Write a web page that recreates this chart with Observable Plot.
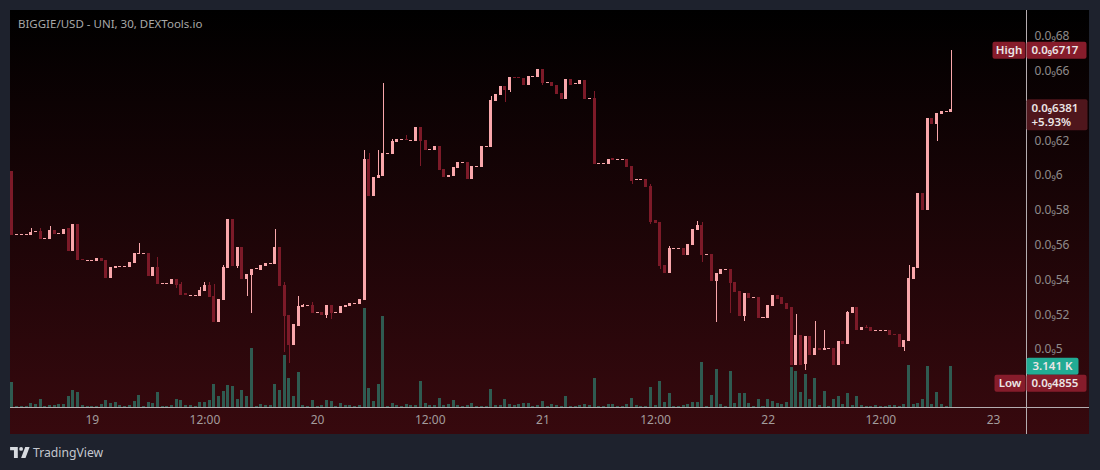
<!DOCTYPE html>
<html><head><meta charset="utf-8">
<script src="https://cdn.jsdelivr.net/npm/d3@7"></script>
<script src="https://cdn.jsdelivr.net/npm/@observablehq/plot@0.6"></script>
<style>
html,body{margin:0;padding:0;background:#1e222d;width:1100px;height:470px;overflow:hidden;font-family:"Noto Sans",sans-serif}
#panel{position:absolute;left:10px;top:10px;width:1079px;height:424px}
#panel svg{display:block}
#title{position:absolute;left:18px;top:16px;font-size:11.5px;color:#a8a8a8;line-height:16px;white-space:nowrap}
#brand{position:absolute;left:10px;top:444px;height:16px;display:flex;align-items:center;gap:3px;color:#c4c8cf;font-size:12.2px}
</style></head><body>
<div id="panel"></div>
<div id="title">BIGGIE/USD - UNI, 30, DEXTools.io</div>
<div id="brand"><svg width="20" height="11" viewBox="0 0 36 20"><path fill="#d8dbe0" d="M14 0H0v6h7v14h7V0Z M28 20h-8L27.5 0h8L28 20Z"/><circle fill="#d8dbe0" cx="20" cy="3.5" r="3.5"/></svg><span>TradingView</span></div>
<script>
// prices are the mantissa shown on the price axis (0.0₉6381 → 0.6381)
const opens = [
.6023,.5656,.5656,.5656,.5655,.5673,.5680,.5633,.5632,.5684,
.5662,.5661,.5693,.5563,.5720,.5518,.5507,.5507,.5506,.5523,
.5511,.5408,.5466,.5472,.5472,.5471,.5494,.5547,.5547,.5552,
.5420,.5471,.5374,.5374,.5374,.5402,.5374,.5319,.5307,.5307,
.5305,.5333,.5368,.5305,.5155,.5282,.5466,.5747,.5477,.5586,
.5402,.5425,.5457,.5454,.5477,.5489,.5489,.5586,.5368,.5195,
.5023,.5132,.5241,.5248,.5253,.5208,.5213,.5195,.5253,.5208,
.5207,.5241,.5247,.5261,.5259,.5282,.6092,.5879,.5983,.5994,
.6122,.6121,.6190,.6200,.6208,.6196,.6195,.6276,.6201,.6143,
.6144,.6167,.6034,.5989,.5994,.6040,.6070,.6075,.5977,.6045,
.6046,.6162,.6161,.6425,.6460,.6512,.6488,.6564,.6564,.6557,
.6517,.6564,.6563,.6609,.6528,.6534,.6517,.6471,.6437,.6552,
.6524,.6523,.6546,.6438,.6443,.6064,.6064,.6063,.6095,.6087,
.6087,.6092,.6052,.5972,.5972,.5977,.5937,.5741,.5730,.5483,
.5437,.5576,.5576,.5580,.5540,.5598,.5684,.5713,.5541,.5546,
.5391,.5431,.5455,.5460,.5385,.5333,.5190,.5322,.5294,.5299,
.5179,.5178,.5247,.5310,.5299,.5264,.5241,.4908,.5080,.4914,
.5075,.4966,.5003,.4994,.5001,.5006,.4908,.5046,.5029,.5207,
.5241,.5109,.5128,.5126,.5104,.5104,.5104,.5109,.5087,.5086,
.5011,.5046,.5402,.5466,.5897,.5799,.6328,.6293,.6351,.6363,.6362];
const closes = [
.5655,.5662,.5662,.5662,.5672,.5679,.5632,.5639,.5684,.5661,
.5668,.5690,.5563,.5720,.5511,.5512,.5513,.5513,.5523,.5506,
.5408,.5471,.5477,.5478,.5478,.5500,.5552,.5553,.5553,.5420,
.5471,.5374,.5380,.5380,.5402,.5368,.5310,.5313,.5313,.5313,
.5339,.5368,.5299,.5155,.5287,.5471,.5747,.5477,.5586,.5402,
.5431,.5460,.5463,.5483,.5494,.5495,.5586,.5362,.5190,.5023,
.5144,.5247,.5253,.5254,.5207,.5214,.5195,.5253,.5207,.5214,
.5247,.5253,.5264,.5267,.5287,.6092,.5879,.5989,.6000,.6126,
.6128,.6195,.6207,.6206,.6202,.6202,.6276,.6195,.6144,.6149,
.6167,.6029,.5989,.6000,.6046,.6075,.6076,.5977,.6052,.6051,
.6167,.6168,.6431,.6466,.6512,.6488,.6563,.6558,.6558,.6517,
.6569,.6570,.6609,.6529,.6534,.6512,.6466,.6437,.6552,.6517,
.6530,.6546,.6437,.6444,.6063,.6070,.6070,.6092,.6089,.6093,
.6093,.6046,.5966,.5978,.5978,.5931,.5730,.5724,.5477,.5437,
.5580,.5582,.5582,.5540,.5603,.5690,.5713,.5540,.5547,.5391,
.5437,.5460,.5461,.5379,.5328,.5190,.5322,.5293,.5300,.5178,
.5185,.5253,.5310,.5287,.5259,.5230,.4908,.5080,.4908,.5075,
.4966,.5006,.4997,.5006,.5007,.4908,.5046,.5029,.5213,.5241,
.5109,.5126,.5122,.5103,.5110,.5110,.5110,.5080,.5081,.5011,
.5052,.5408,.5471,.5897,.5799,.6328,.6293,.6356,.6368,.6369,.6381];
// highs and lows that stick out of the candle body, by candle number
const wickHighs = {4:.5693,6:.5693,8:.5707,27:.5609,31:.5529,36:.5385,40:.5356,41:.5385,42:.5385,43:.5374,45:.5483,56:.5690,58:.5385,61:.5305,62:.5259,64:.5270,75:.6144,76:.6126,78:.6144,79:.6529,81:.6207,84:.6230,102:.6454,124:.6483,136:.5948,140:.5592,146:.5736,147:.5730,167:.5201,171:.5161,173:.5109,178:.5218,182:.5138,191:.5483,200:.6717};
const wickLows = {35:.5351,48:.5466,50:.5305,51:.5207,58:.4983,59:.4920,67:.5178,68:.5172,87:.6052,105:.6421,106:.6477,113:.6517,132:.5948,136:.5718,138:.5460,147:.5500,150:.5155,153:.5207,156:.5161,169:.4879,190:.4989,197:.6195};
// volume in thousands
const volumes = [
1.87,.08,.08,.08,.30,.25,.61,.10,.18,.18,
.25,.25,.86,1.32,1.16,.15,.10,.08,.10,.25,
.53,.33,.40,.13,.10,.18,.48,.94,.10,.40,
.33,1.16,.10,.10,.18,.61,.56,.18,.13,.10,
.40,.40,.56,1.77,.86,1.24,1.70,1.62,.63,1.32,
.86,4.50,.08,.25,.18,.13,1.77,1.32,3.97,2.23,
.86,2.68,.18,.10,.56,.10,.18,.56,.48,.10,
.33,.18,.18,.10,.18,7.54,1.47,.48,1.77,6.93,
.10,.33,.15,.10,.25,.13,.18,2.00,.33,.18,
.18,.71,.18,.25,.56,.18,.10,.18,.33,.10,
.08,.08,1.39,.18,.18,.63,.25,.18,.25,.33,
.33,.10,.18,.48,.10,.25,.18,.10,.86,.10,
.10,.18,.25,.15,2.23,.10,.10,.25,.25,.10,
.10,.25,.71,.18,.10,.10,1.54,.18,2.00,.40,
1.09,.10,.10,.15,.25,.40,.40,3.44,.08,.94,
2.91,.25,.10,2.76,.33,1.09,1.09,.33,.10,.63,
.10,.63,.48,.33,.25,.40,3.06,2.76,1.16,2.53,
.63,2.23,.18,1.24,.10,.63,.86,.25,1.09,.18,
.86,.18,.10,.10,.18,.10,.10,.18,.18,.10,
.25,3.21,.25,.33,.63,3.14,.25,1.16,.25,.10,3.141];
const priceTicks = [.5,.52,.54,.56,.58,.6,.62,.66,.68];
const timeTicks = [17,41,65,89,113,137,161,185,209];
const timeLabels = ["19","12:00","20","12:00","21","12:00","22","12:00","23"];
const highValue = .6717, lowValue = .4855, lastValue = .6381, lastChange = "+5.93%", lastVolume = "3.141 K";

const PINK="#f9a7ab", DARK="#7c1a28", GREEN="#2f5b51", HALF=0.32;
const priceBase=.46667, priceTop=.69483, volToPrice=.00754, timeStart=-.42, timeEnd=216.03;
const fmt=v=>"0.0₉"+String(v).replace(/^0\./,"");

const candles=opens.map((o,i)=>({i,o,c:closes[i],
  h:wickHighs[i]??Math.max(o,closes[i]),l:wickLows[i]??Math.min(o,closes[i]),v:volumes[i],up:closes[i]>=o}));

function tags(index,scales,values,dim){
  const g=d3.create("svg:g").attr("font-size",11.5).attr("font-weight",600);
  const right=dim.width-dim.marginRight+0.5;
  const box=(x,w,cy,h,fill,lines,anchor)=>{
    g.append("rect").attr("x",x).attr("y",cy-h/2).attr("width",w).attr("height",h).attr("rx",2).attr("fill",fill);
    lines.forEach((t,k)=>g.append("text").attr("x",anchor=="middle"?x+w/2:x+5)
      .attr("y",cy+(k-(lines.length-1)/2)*14).attr("dy","0.36em").attr("text-anchor",anchor||"start")
      .attr("fill","#ece6e6").text(t));
  };
  const hy=scales.y(highValue), ly=scales.y(lowValue)+9, py=scales.y(lastValue), vy=ly-17;
  box(right-34,33,hy,17,"#861c2b",["High"],"middle");
  box(right,60,hy,17,"#861c2b",[fmt(highValue)]);
  box(right,61,py+6,31,"#4f161c",[fmt(lastValue),lastChange]);
  box(right,52,vy,17,"#22ab94",[lastVolume],"middle");
  box(right-32,31,ly,17,"#861c2b",["Low"],"middle");
  box(right,60,ly,17,"#861c2b",[fmt(lowValue)]);
  return g.node();
}

const chart=Plot.plot({
  width:1079,height:424,marginLeft:0,marginRight:63,marginTop:0,marginBottom:27,
  style:{background:"linear-gradient(to bottom,#000000 0%,#37090e 100%)",fontFamily:"'Noto Sans',sans-serif",fontSize:"12px",overflow:"visible"},
  x:{domain:[timeStart,timeEnd],range:[0,1016],axis:null},
  y:{domain:[priceBase,priceTop],range:[397,0],axis:null},
  marks:[
    Plot.rectY(candles,{x1:d=>d.i-HALF,x2:d=>d.i+HALF,y1:priceBase,y2:d=>priceBase+d.v*volToPrice,fill:GREEN,shapeRendering:"crispEdges"}),
    Plot.ruleX(candles,{x:"i",y1:"l",y2:"h",stroke:d=>d.up?PINK:DARK,strokeWidth:1,shapeRendering:"crispEdges"}),
    Plot.rectY(candles,{x1:d=>d.i-HALF,x2:d=>d.i+HALF,y1:"o",y2:"c",fill:d=>d.up?PINK:DARK,shapeRendering:"crispEdges"}),
    Plot.ruleY([priceBase],{stroke:"#b5adb0",strokeWidth:1,insetRight:-63}),
    Plot.ruleX([timeEnd],{stroke:"#b5adb0",strokeWidth:1,insetBottom:-27}),
    Plot.axisY(priceTicks,{anchor:"right",tickSize:0,tickPadding:8,tickFormat:fmt,label:null,fill:"#8f8b8b",fontSize:12}),
    Plot.axisX(timeTicks,{anchor:"bottom",tickSize:0,tickPadding:8,tickFormat:(d,i)=>timeLabels[timeTicks.indexOf(d)],label:null,fill:"#a39c9c",fontSize:12}),
    tags
  ]
});
document.getElementById("panel").append(chart);
</script>
</body></html>
